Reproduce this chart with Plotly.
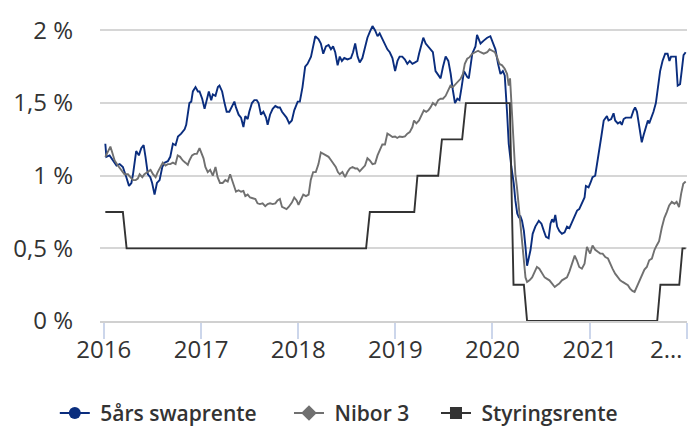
import plotly.graph_objects as go

# ---------------- data ----------------
swap_dates = [
    "2016-01-07","2016-01-11","2016-01-23","2016-02-05","2016-02-18","2016-03-01","2016-03-13","2016-03-26",
    "2016-04-05","2016-04-14","2016-04-20","2016-05-02","2016-05-12","2016-05-21","2016-05-30","2016-06-06",
    "2016-06-15","2016-06-24","2016-07-01","2016-07-10","2016-07-19","2016-07-29","2016-08-08","2016-08-17",
    "2016-08-29","2016-09-07","2016-09-17","2016-09-27","2016-10-06","2016-10-18","2016-10-31","2016-11-06",
    "2016-11-18","2016-11-25","2016-12-01","2016-12-11","2016-12-20","2016-12-26","2017-01-05","2017-01-14",
    "2017-01-22","2017-01-30","2017-02-08","2017-02-14","2017-02-24","2017-03-05","2017-03-11","2017-03-21",
    "2017-03-30","2017-04-07","2017-04-17","2017-04-27","2017-05-06","2017-05-12","2017-05-22","2017-05-31",
    "2017-06-09","2017-06-16","2017-06-25","2017-07-01","2017-07-11","2017-07-20","2017-07-29","2017-08-05",
    "2017-08-14","2017-08-23","2017-09-02","2017-09-08","2017-09-17","2017-09-27","2017-10-07","2017-10-16",
    "2017-10-24","2017-11-01","2017-11-10","2017-11-18","2017-11-28","2017-12-08","2017-12-17","2017-12-30",
    "2018-01-07","2018-01-17","2018-01-27","2018-02-05","2018-02-18","2018-02-24","2018-03-06","2018-03-18",
    "2018-03-27","2018-04-05","2018-04-15","2018-04-25","2018-05-04","2018-05-12","2018-05-20","2018-05-29",
    "2018-06-06","2018-06-14","2018-06-23","2018-07-05","2018-07-18","2018-07-26","2018-08-03","2018-08-12",
    "2018-08-20","2018-08-30","2018-09-09","2018-09-18","2018-09-27","2018-10-07","2018-10-17","2018-10-26",
    "2018-11-03","2018-11-13","2018-11-23","2018-12-02","2018-12-11","2018-12-21","2018-12-31","2019-01-09",
    "2019-01-17","2019-01-27","2019-02-06","2019-02-15","2019-02-24","2019-03-06","2019-03-16","2019-03-25",
    "2019-03-31","2019-04-10","2019-04-16","2019-04-25","2019-05-05","2019-05-14","2019-05-22","2019-06-01",
    "2019-06-11","2019-06-20","2019-06-29","2019-07-09","2019-07-19","2019-07-28","2019-08-05","2019-08-13",
    "2019-08-22","2019-08-30","2019-09-07","2019-09-16","2019-09-28","2019-10-04","2019-10-17","2019-10-29",
    "2019-11-04","2019-11-17","2019-11-29","2019-12-12","2019-12-24","2020-01-02","2020-01-12","2020-01-22",
    "2020-01-31","2020-02-09","2020-02-16","2020-02-25","2020-03-02","2020-03-12","2020-03-21","2020-03-27",
    "2020-04-03","2020-04-09","2020-04-15","2020-04-21","2020-04-28","2020-05-04","2020-05-10","2020-05-16",
    "2020-05-23","2020-05-31","2020-06-10","2020-06-23","2020-07-03","2020-07-12","2020-07-20","2020-07-30",
    "2020-08-06","2020-08-12","2020-08-18","2020-08-24","2020-08-31","2020-09-08","2020-09-18","2020-09-28",
    "2020-10-07","2020-10-16","2020-10-26","2020-11-05","2020-11-14","2020-11-22","2020-12-02","2020-12-12",
    "2020-12-17","2020-12-27","2021-01-03","2021-01-11","2021-01-21","2021-01-28","2021-02-05","2021-02-13",
    "2021-02-22","2021-02-28","2021-03-06","2021-03-12","2021-03-22","2021-03-31","2021-04-06","2021-04-16",
    "2021-04-25","2021-05-01","2021-05-08","2021-05-16","2021-05-26","2021-06-05","2021-06-14","2021-06-20",
    "2021-06-27","2021-07-03","2021-07-09","2021-07-15","2021-07-22","2021-07-28","2021-08-07","2021-08-12",
    "2021-08-19","2021-08-28","2021-09-06","2021-09-13","2021-09-22","2021-10-01","2021-10-11","2021-10-20",
    "2021-10-27","2021-11-02","2021-11-11","2021-11-20","2021-11-27","2021-12-06","2021-12-12","2021-12-19",
    "2021-12-27",
]
swap_values = [
    1.22,1.13,1.14,1.105,1.07,1.08,1.06,0.99,
    0.93,0.95,1.01,1.17,1.14,1.19,1.21,1.13,
    1.01,0.99,0.95,0.87,0.95,0.97,1.06,1.09,
    1.10,1.13,1.22,1.21,1.27,1.29,1.32,1.35,
    1.50,1.51,1.58,1.61,1.58,1.58,1.53,1.46,
    1.53,1.58,1.52,1.56,1.55,1.61,1.62,1.58,
    1.50,1.44,1.44,1.48,1.51,1.47,1.42,1.40,
    1.335,1.41,1.39,1.44,1.50,1.52,1.52,1.50,
    1.42,1.44,1.40,1.35,1.42,1.46,1.48,1.47,
    1.47,1.44,1.42,1.40,1.36,1.38,1.45,1.51,
    1.51,1.61,1.75,1.77,1.82,1.87,1.96,1.94,
    1.91,1.84,1.89,1.90,1.87,1.89,1.85,1.76,
    1.82,1.79,1.81,1.80,1.81,1.85,1.91,1.82,
    1.78,1.81,1.89,1.95,1.99,2.03,2.00,1.96,
    1.98,1.94,1.90,1.87,1.85,1.81,1.72,1.79,
    1.82,1.82,1.80,1.77,1.79,1.77,1.78,1.79,
    1.84,1.90,1.95,1.91,1.89,1.87,1.85,1.72,
    1.69,1.67,1.75,1.82,1.79,1.70,1.59,1.50,
    1.53,1.52,1.61,1.72,1.68,1.67,1.84,1.89,
    1.97,1.91,1.93,1.95,1.96,1.92,1.87,1.77,
    1.70,1.72,1.69,1.43,1.22,1.06,0.945,0.83,
    0.74,0.715,0.72,0.69,0.62,0.51,0.38,0.43,
    0.49,0.60,0.65,0.69,0.67,0.62,0.58,0.57,
    0.67,0.70,0.68,0.73,0.65,0.62,0.60,0.61,
    0.65,0.64,0.68,0.72,0.76,0.77,0.81,0.85,
    0.93,0.92,0.95,0.99,1.00,1.08,1.15,1.27,
    1.38,1.40,1.41,1.38,1.39,1.43,1.38,1.36,
    1.37,1.35,1.39,1.40,1.40,1.40,1.45,1.47,
    1.44,1.37,1.32,1.23,1.28,1.32,1.38,1.36,
    1.39,1.44,1.50,1.61,1.72,1.79,1.84,1.84,
    1.79,1.82,1.82,1.82,1.62,1.63,1.72,1.83,
    1.85,
]

nibor_dates = [
    "2016-01-07","2016-01-17","2016-01-26","2016-02-02","2016-02-11","2016-02-23","2016-03-07","2016-03-19",
    "2016-04-01","2016-04-10","2016-04-20","2016-04-30","2016-05-08","2016-05-15","2016-05-25","2016-06-02",
    "2016-06-15","2016-06-25","2016-07-04","2016-07-14","2016-07-22","2016-07-31","2016-08-10","2016-08-20",
    "2016-08-29","2016-09-07","2016-09-17","2016-09-27","2016-10-05","2016-10-14","2016-10-24","2016-11-03",
    "2016-11-12","2016-11-18","2016-11-28","2016-12-07","2016-12-16","2016-12-26","2017-01-02","2017-01-10",
    "2017-01-17","2017-01-26","2017-02-04","2017-02-14","2017-02-24","2017-03-04","2017-03-13","2017-03-23",
    "2017-04-02","2017-04-11","2017-04-20","2017-04-27","2017-05-06","2017-05-12","2017-05-22","2017-05-31",
    "2017-06-09","2017-06-16","2017-06-25","2017-07-04","2017-07-14","2017-07-24","2017-08-01","2017-08-10",
    "2017-08-20","2017-08-30","2017-09-08","2017-09-17","2017-09-27","2017-10-07","2017-10-15","2017-10-24",
    "2017-11-01","2017-11-09","2017-11-18","2017-11-26","2017-12-08","2017-12-17","2017-12-26","2018-01-02",
    "2018-01-11","2018-01-20","2018-01-30","2018-02-09","2018-02-17","2018-02-26","2018-03-08","2018-03-18",
    "2018-03-27","2018-04-05","2018-04-15","2018-04-25","2018-05-03","2018-05-12","2018-05-22","2018-05-30",
    "2018-06-06","2018-06-16","2018-06-26","2018-07-05","2018-07-14","2018-07-24","2018-08-03","2018-08-11",
    "2018-08-20","2018-08-30","2018-09-09","2018-09-18","2018-09-27","2018-10-07","2018-10-17","2018-10-26",
    "2018-11-03","2018-11-13","2018-11-23","2018-12-02","2018-12-11","2018-12-21","2018-12-31","2019-01-08",
    "2019-01-17","2019-01-27","2019-02-06","2019-02-15","2019-02-24","2019-03-06","2019-03-12","2019-03-21",
    "2019-03-31","2019-04-10","2019-04-18","2019-04-27","2019-05-05","2019-05-13","2019-05-22","2019-06-01",
    "2019-06-11","2019-06-20","2019-06-29","2019-07-09","2019-07-19","2019-07-27","2019-08-05","2019-08-15",
    "2019-08-25","2019-09-03","2019-09-12","2019-09-19","2019-09-28","2019-10-07","2019-10-17","2019-10-29",
    "2019-11-08","2019-11-17","2019-11-29","2019-12-12","2019-12-21","2019-12-31","2020-01-10","2020-01-18",
    "2020-01-27","2020-02-06","2020-02-16","2020-02-25","2020-03-02","2020-03-07","2020-03-12","2020-03-17",
    "2020-03-22","2020-03-27","2020-04-02","2020-04-09","2020-04-15","2020-04-21","2020-04-27","2020-05-04",
    "2020-05-10","2020-05-19","2020-05-29","2020-06-08","2020-06-16","2020-06-25","2020-07-05","2020-07-15",
    "2020-07-24","2020-08-02","2020-08-12","2020-08-22","2020-08-30","2020-09-08","2020-09-18","2020-09-28",
    "2020-10-07","2020-10-16","2020-10-26","2020-11-05","2020-11-13","2020-11-22","2020-12-02","2020-12-12",
    "2020-12-21","2020-12-27","2021-01-02","2021-01-11","2021-01-21","2021-01-31","2021-02-09","2021-02-18",
    "2021-02-28","2021-03-10","2021-03-18","2021-03-27","2021-04-06","2021-04-16","2021-04-25","2021-05-04",
    "2021-05-14","2021-05-24","2021-06-01","2021-06-10","2021-06-18","2021-06-26","2021-07-05","2021-07-15",
    "2021-07-25","2021-08-03","2021-08-12","2021-08-22","2021-09-01","2021-09-09","2021-09-18","2021-09-28",
    "2021-10-08","2021-10-17","2021-10-26","2021-11-05","2021-11-15","2021-11-23","2021-12-02","2021-12-10",
    "2021-12-18","2021-12-27",
]
nibor_values = [
    1.13,1.17,1.20,1.16,1.105,1.07,1.04,1.01,
    1.01,0.99,0.97,0.97,0.98,1.01,0.99,1.01,
    1.025,1.04,1.01,0.99,1.025,1.06,1.09,1.07,
    1.08,1.08,1.09,1.08,1.14,1.13,1.105,1.09,
    1.075,1.105,1.14,1.15,1.15,1.19,1.16,1.12,
    1.06,1.025,1.04,1.00,1.06,0.99,0.95,0.95,
    0.97,0.96,1.01,0.97,0.92,0.89,0.90,0.89,
    0.895,0.86,0.87,0.85,0.845,0.84,0.81,0.805,
    0.81,0.79,0.805,0.81,0.805,0.81,0.83,0.84,
    0.785,0.78,0.77,0.785,0.815,0.85,0.83,0.80,
    0.84,0.87,0.86,0.87,0.97,1.025,1.025,1.08,
    1.16,1.15,1.14,1.13,1.11,1.09,1.06,1.025,
    1.01,1.025,0.99,1.025,1.05,1.06,1.05,1.05,
    1.03,1.05,1.07,1.12,1.105,1.08,1.085,1.14,
    1.175,1.215,1.215,1.29,1.28,1.267,1.27,1.26,
    1.27,1.267,1.27,1.289,1.30,1.335,1.38,1.36,
    1.38,1.415,1.45,1.44,1.45,1.47,1.50,1.485,
    1.52,1.53,1.53,1.55,1.59,1.62,1.61,1.63,
    1.645,1.667,1.70,1.77,1.805,1.816,1.84,1.85,
    1.86,1.85,1.84,1.85,1.87,1.86,1.85,1.816,
    1.77,1.76,1.736,1.70,1.62,1.67,1.496,1.31,
    1.105,1.01,0.92,0.78,0.64,0.51,0.395,0.30,
    0.269,0.28,0.30,0.34,0.372,0.36,0.326,0.30,
    0.29,0.28,0.257,0.234,0.246,0.257,0.28,0.29,
    0.30,0.34,0.395,0.45,0.418,0.372,0.36,0.395,
    0.51,0.49,0.464,0.52,0.49,0.476,0.464,0.464,
    0.44,0.43,0.395,0.36,0.326,0.30,0.28,0.269,
    0.257,0.246,0.223,0.207,0.20,0.234,0.28,0.315,
    0.354,0.372,0.418,0.43,0.49,0.52,0.55,0.64,
    0.71,0.75,0.796,0.82,0.807,0.82,0.784,0.877,
    0.945,0.96,
]

policy_dates = [
    "2016-01-07","2016-03-13","2016-03-27","2018-09-13","2018-09-27","2019-03-13","2019-03-25",
    "2019-06-11","2019-06-25","2019-09-09","2019-09-23","2020-03-06","2020-03-20","2020-04-28",
    "2020-05-10","2021-09-11","2021-09-23","2021-12-03","2021-12-15","2021-12-27",
]
policy_values = [
    0.75,0.75,0.50,0.50,0.75,0.75,1.00,
    1.00,1.25,1.25,1.50,1.50,0.25,0.25,
    0.00,0.00,0.25,0.25,0.50,0.50,
]

series_names = ["5års swaprente", "Nibor 3", "Styringsrente"]
series_colors = ["#0a2d7e", "#707070", "#333333"]
series_symbols = ["circle", "diamond", "square"]

year_ticks = ["2016-01-01","2017-01-01","2018-01-01","2019-01-01","2020-01-01","2021-01-01","2022-01-01"]
year_labels = ["2016","2017","2018","2019","2020","2021",""]
last_year_label = "2…"   # truncated "2022" label at the right edge
y_ticks = [0, 0.5, 1, 1.5, 2]
y_labels = ["0 %", "0,5 %", "1 %", "1,5 %", "2 %"]

# ---------------- figure ----------------
fig = go.Figure()
all_x = [swap_dates, nibor_dates, policy_dates]
all_y = [swap_values, nibor_values, policy_values]
for name, xs, ys, col in zip(series_names, all_x, all_y, series_colors):
    fig.add_trace(go.Scatter(x=xs, y=ys, mode="lines", name=name, legendgroup=name,
                             showlegend=False, line=dict(color=col, width=1.9),
                             hoverinfo="skip"))
# legend entries (line + marker symbol); padded names reproduce the legend spacing
legend_labels = ["\u00a0" + series_names[0] + "\u00a0" * 5,
                 "\u00a0" + series_names[1] + "\u00a0" * 4,
                 "\u00a0" + series_names[2]]
for name, lab, col, sym in zip(series_names, legend_labels, series_colors, series_symbols):
    fig.add_trace(go.Scatter(x=[None], y=[None], mode="lines+markers", name=lab,
                             legendgroup=name, line=dict(color=col, width=2),
                             marker=dict(color=col, symbol=sym, size=12)))

font_family = "Open Sans, sans-serif"
fig.update_layout(
    width=688, height=431,
    margin=dict(l=100, r=1, t=13, b=110, autoexpand=False),
    paper_bgcolor="white", plot_bgcolor="white",
    font=dict(family=font_family, size=24, color="#333333"),
    showlegend=True,
    legend=dict(orientation="h", x=-0.077, xanchor="left", y=-0.30, yanchor="middle",
                font=dict(family=font_family, size=21, color="#333333", weight=650),
                itemwidth=30, tracegroupgap=0, bgcolor="rgba(0,0,0,0)"),
    xaxis=dict(type="date", range=["2015-12-18", "2022-01-01"], automargin=False,
               tickvals=year_ticks, ticktext=year_labels,
               showgrid=False, showline=True, linecolor="#d0d0d0", linewidth=2,
               ticks="outside", ticklen=16, tickwidth=2, tickcolor="#ccd6eb",
               ticklabelstandoff=-10,
               tickfont=dict(size=24, color="#333333"), zeroline=False),
    yaxis=dict(range=[0, 2.12], tickvals=y_ticks, ticktext=y_labels, automargin=False,
               showgrid=True, gridcolor="#d6d6d6", gridwidth=1.5,
               zeroline=False, showline=False, ticks="", ticklabelstandoff=26,
               tickfont=dict(size=24, color="#333333")),
    annotations=[dict(x=year_ticks[-1], xref="x", y=-0.088, yref="paper",
                      text=last_year_label, showarrow=False, xanchor="right",
                      yanchor="middle", xshift=-3,
                      font=dict(family=font_family, size=24, color="#333333"))],
)

fig.write_html("out.html", config={"displayModeBar": False},
               post_script="document.body.style.margin='0';")
